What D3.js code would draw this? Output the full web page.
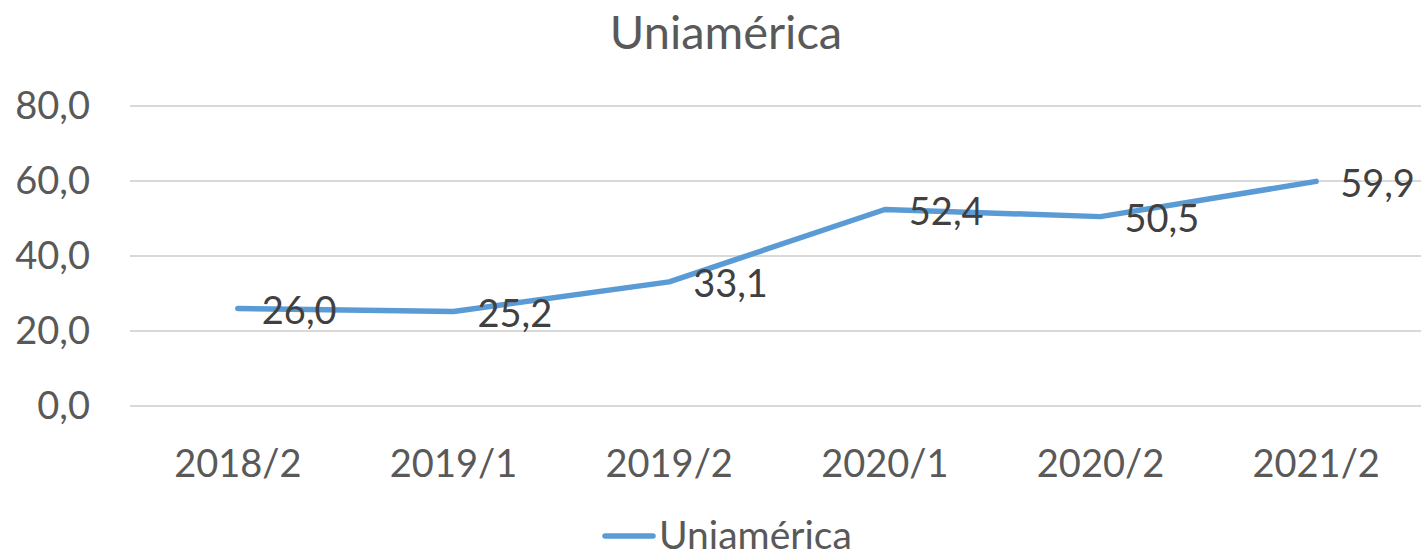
<!DOCTYPE html>
<html>
<head>
<meta charset="utf-8">
<script src="https://cdn.jsdelivr.net/npm/d3@7"></script>
<style>
  body { margin: 0; background: #fff; }
  text { font-family: Lato, "Open Sans", sans-serif; }
</style>
</head>
<body>
<div id="chart"></div>
<script>
var categories = ["2018/2", "2019/1", "2019/2", "2020/1", "2020/2", "2021/2"];
var values = [26.0, 25.2, 33.1, 52.4, 50.5, 59.9];
var yTicks = [0, 20, 40, 60, 80];
var seriesName = "Uniamérica";

var width = 1421;
var height = 553;
var fmt = function(v) { return v.toFixed(1).replace(".", ","); };

var svg = d3.select("#chart").append("svg")
    .attr("width", width)
    .attr("height", height);

var x = d3.scalePoint()
    .domain(categories)
    .range([130, 1424])
    .padding(0.5);

var y = d3.scaleLinear()
    .domain([0, 80])
    .range([406, 106]);

// title
svg.append("text")
    .attr("x", 726)
    .attr("y", 33)
    .attr("dy", "0.35em")
    .attr("text-anchor", "middle")
    .style("font-size", "47px")
    .style("fill", "#595959")
    .text(seriesName);

// gridlines
svg.selectAll(".grid")
    .data(yTicks)
    .enter()
    .append("line")
    .attr("x1", 130)
    .attr("x2", 1424)
    .attr("y1", function(d) { return y(d); })
    .attr("y2", function(d) { return y(d); })
    .style("stroke", "#d9d9d9")
    .style("stroke-width", 2);

// y labels
svg.selectAll(".ylbl")
    .data(yTicks)
    .enter()
    .append("text")
    .attr("x", 90)
    .attr("y", function(d) { return y(d); })
    .attr("dy", "0.35em")
    .attr("text-anchor", "end")
    .style("font-size", "38px")
    .style("fill", "#595959")
    .text(fmt);

// x labels
svg.selectAll(".xlbl")
    .data(categories)
    .enter()
    .append("text")
    .attr("x", function(d) { return x(d); })
    .attr("y", 464)
    .attr("dy", "0.35em")
    .attr("text-anchor", "middle")
    .style("font-size", "38px")
    .style("fill", "#595959")
    .text(function(d) { return d; });

// line
var line = d3.line()
    .x(function(d, i) { return x(categories[i]); })
    .y(function(d) { return y(d); });

svg.append("path")
    .datum(values)
    .attr("d", line)
    .style("fill", "none")
    .style("stroke", "#5b9bd5")
    .style("stroke-width", 5.5)
    .style("stroke-linecap", "round")
    .style("stroke-linejoin", "round");

// data labels
svg.selectAll(".dlbl")
    .data(values)
    .enter()
    .append("text")
    .attr("x", function(d, i) { return x(categories[i]) + 24; })
    .attr("y", function(d) { return y(d) + 2; })
    .attr("dy", "0.35em")
    .style("font-size", "38px")
    .style("fill", "#404040")
    .text(fmt);

// legend
svg.append("line")
    .attr("x1", 605)
    .attr("x2", 653)
    .attr("y1", 536)
    .attr("y2", 536)
    .style("stroke", "#5b9bd5")
    .style("stroke-width", 5.5)
    .style("stroke-linecap", "round");

svg.append("text")
    .attr("x", 659)
    .attr("y", 535)
    .attr("dy", "0.35em")
    .style("font-size", "39px")
    .style("fill", "#595959")
    .text(seriesName);
</script>
</body>
</html>
